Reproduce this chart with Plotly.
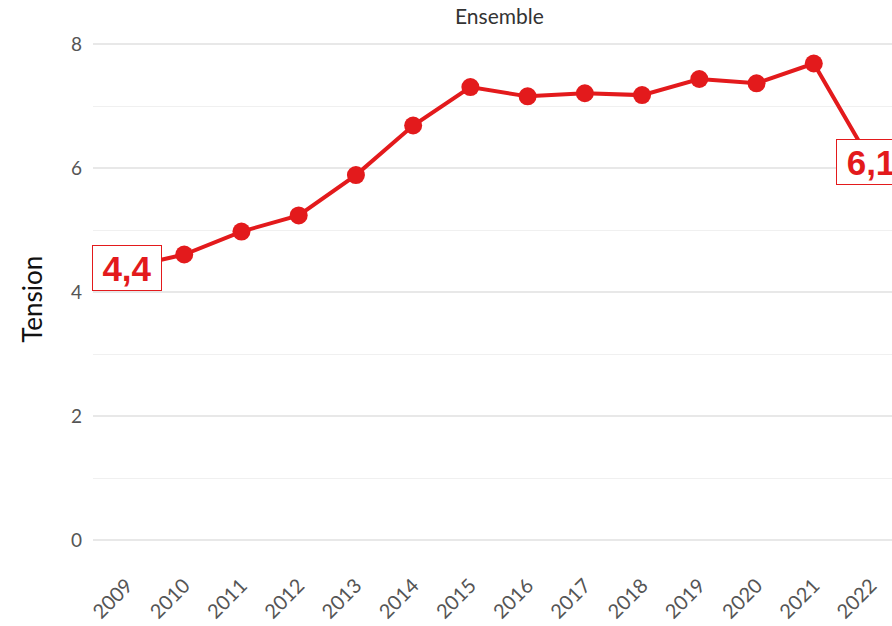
import plotly.graph_objects as go

years = [2009, 2010, 2011, 2012, 2013, 2014, 2015, 2016, 2017, 2018, 2019, 2020, 2021, 2022]
tension = [4.4, 4.61, 4.98, 5.24, 5.89, 6.69, 7.31, 7.16, 7.21, 7.18, 7.44, 7.37, 7.69, 6.1]
y_ticks = [0, 2, 4, 6, 8]
facet_title = "Ensemble"
y_title = "Tension"

RED = "#E31A1C"
FONT = "Lato, 'Open Sans', sans-serif"

fig = go.Figure()
fig.add_trace(go.Scatter(
    x=years, y=tension, mode="lines+markers",
    line=dict(color=RED, width=4),
    marker=dict(color=RED, size=18),
    hoverinfo="skip", showlegend=False,
))

for idx in (0, len(years) - 1):
    fig.add_annotation(
        x=years[idx], y=tension[idx], xref="x", yref="y",
        text="<b>" + f"{tension[idx]:.1f}".replace(".", ",") + "</b>",
        showarrow=False, width=64, height=40, align="center",
        font=dict(family="'Liberation Sans', Arial, sans-serif", size=35, color=RED),
        bgcolor="white", bordercolor=RED, borderwidth=1, borderpad=2,
    )

fig.add_annotation(
    x=0.509, y=1.0, xref="paper", yref="paper", yanchor="bottom",
    text=facet_title, showarrow=False, yshift=0,
    font=dict(family=FONT, size=21, color="#333333"),
)

fig.add_annotation(
    x=-0.0763, y=0.49, xref="paper", yref="paper", xanchor="center", yanchor="middle",
    text=y_title, showarrow=False, textangle=-90,
    font=dict(family=FONT, size=26, color="#111111"),
)

fig.update_layout(
    width=892, height=626,
    margin=dict(l=93, r=0, t=30, b=67, autoexpand=False),
    plot_bgcolor="white", paper_bgcolor="white",
    font=dict(family=FONT),
)
fig.update_xaxes(
    range=[2008.406, 2022.367], tickmode="array", tickvals=years,
    ticktext=[str(y) for y in years], tickangle=-45, automargin=False,
    ticklabelstandoff=10,
    showgrid=False, zeroline=False, showline=False, ticks="",
    tickfont=dict(family=FONT, size=20, color="#555555"),
)
fig.update_yaxes(
    range=[-0.3, 8.23], tickmode="array", tickvals=y_ticks, automargin=False,
    ticklabelstandoff=10,
    showgrid=True, gridcolor="#E8E8E8", gridwidth=2,
    minor=dict(tickvals=[1, 3, 5, 7], showgrid=True, gridcolor="#F0F0F0", gridwidth=1),
    zeroline=False, showline=False, ticks="",
    tickfont=dict(family=FONT, size=19, color="#555555"),
)

fig.write_html(
    "out.html",
    config={"displayModeBar": False},
    post_script="document.body.style.margin='0';document.body.style.overflow='hidden';",
)
